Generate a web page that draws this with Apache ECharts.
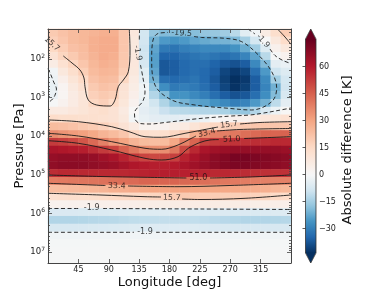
<!DOCTYPE html>
<html><head><meta charset="utf-8">
<script src="https://cdn.jsdelivr.net/npm/echarts@6/dist/echarts.min.js"></script>
<style>html,body{margin:0;padding:0;background:#fff}#c{width:390px;height:293px}</style>
</head><body><div id="c"></div>
<script>
// ---------- data ----------
const VMIN = -43.5, VMAX = 75.4;               // colour-bar range [K]
const lonCenters = [7.5,22.5,37.5,52.5,67.5,82.5,97.5,112.5,127.5,142.5,157.5,172.5,187.5,202.5,217.5,232.5,247.5,262.5,277.5,292.5,307.5,322.5,337.5,352.5];
const logPCenters = [1.324,1.526,1.728,1.930,2.132,2.335,2.537,2.739,2.941,3.143,3.345,3.547,3.749,3.952,4.154,4.356,4.558,4.760,4.962,5.164,5.366,5.569,5.771,5.973,6.175,6.377,6.579,6.781,6.983,7.185];
const logPRange = [1.223, 7.285];
const lonTicks = [45,90,135,180,225,270,315];
const pTicks = [1e2,1e3,1e4,1e5,1e6,1e7];
const cbarTicks = [-30,-15,0,15,30,45,60];

// absolute difference [K], rows top (low pressure) -> bottom, columns lon 7.5..352.5
const upperRows = [
 [20,22,24,25,26,27,27,21,8.5,-8,-17,-19,-19,-19,-18.5,-17,-16.5,-15.5,-12,-5,-1.5,6,13,19],
 [18,21,24,25,27,28,28,21,7.7,-8.2,-21,-25,-26,-25,-23,-22,-21,-20.5,-19.5,-15,-8,0,8,14],
 [15.5,19,22.5,24,27,28,28,21,7.7,-8.9,-23,-31,-32,-30,-29,-28,-28,-28,-26,-22,-15.5,-6,3.5,8],
 [11,16.5,20,23,26,28,27,20.5,8.2,-8.2,-24,-35,-35,-33,-32,-31,-32,-33,-32,-29,-23,-12,-0.5,3],
 [6,12,16.5,21,25,27,26,20,8.5,-7.6,-24,-37,-36,-34,-33,-33,-35,-37,-38,-36,-28,-19.5,-4.5,-3],
 [-1.5,8,13,18.5,24,25.5,25,18.5,8,-5,-23,-37,-36,-34,-33,-34,-36,-40,-42,-40,-33,-25,-9,-6],
 [-2.5,4.5,10,15,22,24,23,16,6.8,-3.9,-21,-33,-34,-33,-32,-34,-37,-41,-44,-42,-36,-28,-15,-8],
 [-3.5,2,7.5,12,20,22,21,11,5.6,-1.6,-17,-27,-31,-30,-31,-33,-36,-40,-43,-41,-36,-29,-21,-8.5],
 [-3,1.5,6.5,10,18,20,18.5,10.5,4.6,-2,-13,-19,-26,-26,-28,-30,-33,-36,-38,-37,-33,-27,-19,-7],
 [-0.5,3,6.5,9.5,16,18,15,9,3,-3.5,-8.4,-13.4,-18.5,-20.5,-23,-24,-26,-28,-30,-29,-25,-21,-11.5,-4.5],
 [7,7,8.5,10,12,13,11,7,0.5,-4.5,-6,-9.6,-11.4,-12.1,-12.6,-13,-13.3,-14,-17,-17,-13,-7,-2.5,0.5]
];
const bandRows = [
 [14,13,13,12.5,12.5,12,11,8,-1,-3.5,-4.5,-4.8,-4.7,-4.2,-3.5,-2.5,-0.5,1.6,2.9,3.6,6.8,8.6,10,11.6],
 [24,23,22,20.5,19.5,17.5,15,11,7,2.7,2.5,3,5.5,7,10.5,14,16,18,19,20,21,21,21,21],
 [35.5,34,32,31,29,26,24,21,16,13,12,13,16,19,27.5,36,38,38.5,40,42,43,44,44,44.5],
 [53,52,50,47,43,38,33.5,30,26,24,23,24,29,38,44,51.5,53,54,54.5,55,56,56,57,57],
 [62,61,60,59,56,53,51,44.6,40,36,35,35,40,50,57,62,64,65,66,66,66,66,66,65],
 [66,67,67,67,66,64,62,58,54,51,50,50.5,52,58,62,65,68,70,72,72,71,70,69,68],
 [67,68,68,68,67,66,65,63,61,60,59,59,60,62,64,66,68,70,71,71,70,69,68,67],
 [56,57,57,57,57,57,57,57,57.5,58,58.5,59,59,58.5,58,57.5,57,57,56.5,56,55.5,55,55,55],
 [39,39.5,40,40.5,41,41.5,42,42.5,43,44,44,44,44,43.5,43,42,41,40,39.5,39,38.5,38,38,38],
 [23.5,24,24.5,25,25.5,26,27,27.5,28.5,29.5,30,30,30.5,30.7,30.5,30,29.5,29,29,28.5,28,27,26,25],
 [12,12.5,13,13,13.5,14,15,15.5,15.7,15.7,16.5,17.5,19,20,19.5,19,19,18.5,18.5,18.4,17.5,16.5,15,14]
];
const lowerRows = [
 [3.2,3.3,3.5,3.6,3.8,4,4.2,4.5,4.8,5,5.3,5.6,6,6.3,6.2,6,6,5.8,5.6,5.5,5.2,5,4.8,4.5],
 [-6.5,-6.5,-6.5,-6.4,-6.3,-6.2,-6,-5.8,-5.6,-5.5,-5.5,-5.5,-5.5,-5.5,-5.6,-5.8,-6,-6.2,-6.4,-6.5,-6.4,-6.2,-6,-5.8],
 [-13,-13,-13,-12.8,-12.5,-12.2,-12,-11.5,-11,-10.8,-10.6,-10.5,-10.5,-10.6,-10.8,-11.2,-11.8,-12.2,-12.6,-13,-13,-13,-12.8,-12.5],
 [-7,-7,-7,-7,-6.8,-6.6,-6.4,-6.2,-6,-5.8,-5.8,-5.8,-5.8,-5.8,-6,-6.2,-6.5,-6.8,-7,-7,-7,-7,-7,-7],
 [-1.4,-1.4,-1.4,-1.4,-1.4,-1.4,-1.4,-1.4,-1.4,-1.4,-1.4,-1.4,-1.4,-1.4,-1.4,-1.4,-1.4,-1.4,-1.4,-1.4,-1.4,-1.4,-1.4,-1.4],
 [-0.6,-0.6,-0.6,-0.6,-0.6,-0.6,-0.6,-0.6,-0.6,-0.6,-0.6,-0.6,-0.6,-0.6,-0.6,-0.6,-0.6,-0.6,-0.6,-0.6,-0.6,-0.6,-0.6,-0.6],
 [-0.4,-0.4,-0.4,-0.4,-0.4,-0.4,-0.4,-0.4,-0.4,-0.4,-0.4,-0.4,-0.4,-0.4,-0.4,-0.4,-0.4,-0.4,-0.4,-0.4,-0.4,-0.4,-0.4,-0.4],
 [-0.3,-0.3,-0.3,-0.3,-0.3,-0.3,-0.3,-0.3,-0.3,-0.3,-0.3,-0.3,-0.3,-0.3,-0.3,-0.3,-0.3,-0.3,-0.3,-0.3,-0.3,-0.3,-0.3,-0.3]
];

// contour lines: [longitude, log10(pressure)]
const c157UpperLeft = [[22.7,1.922],[35.6,2.104],[47.4,2.285],[53.3,2.492],[54.8,2.718],[59.7,3.062],[72.1,3.192],[91.9,3.218],[99.3,3.062],[104.1,2.718],[111.6,2.544],[119,2.329],[121.5,1.767],[120.4,1.223]];
const c157TopRight = [[340,1.223],[351.1,1.43],[360,1.62]];
const cm19LeftBulge = [[0,2.25],[4,2.40],[8.5,2.60],[12.5,2.78],[10,2.95],[5,3.07],[0,3.12]];
const cm19MainA = [[135.6,1.223],[135.3,1.508]];
const cm19MainB = [[137,2.155],[140.7,2.492],[143.7,2.855],[140.7,3.088],[133.3,3.244],[128.1,3.399],[128.9,3.554],[136.3,3.671],[151.1,3.684],[173.3,3.645],[192.6,3.606],[217.8,3.554],[242.5,3.515],[272.1,3.477],[299.3,3.451],[317,3.407],[340.7,3.334],[360,3.269]];
const cm19TopRightA = [[296.3,1.223],[306.7,1.352]];
const cm19TopRightB = [[328.9,1.741],[336.3,1.909],[348.1,2.039],[360,2.117]];
const cm195Loop = [[216.3,1.417],[227.7,1.443],[262.2,1.464],[287,1.552],[311.6,1.896],[331.4,2.329],[338.8,2.759],[331.4,3.106],[301.8,3.321],[267.1,3.277],[217.8,3.192],[183.3,3.062],[158.5,2.674],[153.6,1.982],[155.6,1.508],[163,1.339],[177.8,1.313]];
const c157BandUpA = [[0,3.58],[44.9,3.624],[94.4,3.754],[121.5,3.891],[143.7,4.013],[168.4,4.028],[203,3.925],[232.6,3.826],[251.9,3.762]];
const c157BandUpB = [[284.4,3.684],[314.1,3.645],[360,3.624]];
const c334BandUpA = [[0,3.925],[44.9,3.995],[94.4,4.142],[143.7,4.313],[168.4,4.339],[192.6,4.228],[210.4,4.073],[219.3,3.995]];
const c334BandUpB = [[250.4,3.865],[284.4,3.826],[360,3.80]];
const c51BandUpA = [[0,4.117],[44.9,4.184],[94.4,4.358],[143.7,4.573],[168.4,4.617],[192.6,4.531],[207.9,4.313],[225.2,4.163],[240,4.098],[253,4.088]];
const c51BandUpB = [[290.4,4.06],[360,4.013]];
const c51BandLowA = [[0,5.005],[77,5.044],[143.7,5.065],[205,5.083]];
const c51BandLowB = [[240,5.083],[299.3,5.057],[360,5.005]];
const c334BandLowA = [[0,5.22],[85,5.277]];
const c334BandLowB = [[118.5,5.29],[192.6,5.308],[269.6,5.277],[360,5.22]];
const c157BandLowA = [[0,5.479],[77,5.523],[143.7,5.567],[167.4,5.575]];
const c157BandLowB = [[198.5,5.627],[225.2,5.64],[291.9,5.609],[360,5.523]];
const cm19Low1A = [[0,5.873],[48.1,5.873]];
const cm19Low1B = [[81.5,5.873],[225.2,5.886],[360,5.899]];
const cm19Low2A = [[0,6.49],[127.4,6.49]];
const cm19Low2B = [[160,6.49],[360,6.49]];
// contour labels: [lon, log10 p, text, rotation]
const contourLabels = [
 [5.9,1.611,'15.7',-43],[132.9,1.845,'-1.9',-79],[318.5,1.534,'-1.9',-47],[198,1.334,'-19.5',-4],
 [268.1,3.702,'15.7',7],[235.1,3.917,'33.4',14],[272.1,4.08,'51.0',3],
 [222.7,5.09,'51.0',0],[101.8,5.29,'33.4',-2],[183.3,5.596,'15.7',-3],
 [64.7,5.868,'-1.9',0],[143.7,6.49,'-1.9',0]
];

// ---------- colour map (RdBu_r, two-slope around 0) ----------
const RDBU_R = ['#053061','#2166ac','#4393c3','#92c5de','#d1e5f0','#f7f7f7','#fddbc7','#f4a582','#d6604d','#b2182b','#67001f'];
function hex2rgb(h){return [1,3,5].map(i=>parseInt(h.substr(i,2),16));}
function cmap(t){t=Math.max(0,Math.min(1,t));const p=t*10;const i=Math.min(9,Math.floor(p));const f=p-i;
 const a=hex2rgb(RDBU_R[i]),b=hex2rgb(RDBU_R[i+1]);return 'rgb('+a.map((x,k)=>Math.round(x+(b[k]-x)*f)).join(',')+')';}
function norm(v){return v>=0?0.5+0.5*v/VMAX:0.5-0.5*v/VMIN;}
const vmColors=[];for(let k=0;k<=150;k++){vmColors.push(cmap(norm(VMIN+(VMAX-VMIN)*k/150)));}
const cbarStops=[];for(let k=0;k<=80;k++){cbarStops.push({offset:k/80,color:cmap(norm(VMAX-(VMAX-VMIN)*k/80))});}

// ---------- build ----------
const FONT='DejaVu Sans';
const allRows=upperRows.concat(bandRows,lowerRows);
const heatData=[];allRows.forEach((row,i)=>row.forEach((v,j)=>heatData.push([j,i,v])));
const toP=arr=>arr.map(d=>[d[0],Math.pow(10,d[1])]);
const PMIN=Math.pow(10,logPRange[0]),PMAX=Math.pow(10,logPRange[1]);
const pMinor=[];for(let d=1;d<=7;d++){for(let m=2;m<=9;m++){const v=m*Math.pow(10,d);if(v>PMIN&&v<PMAX)pMinor.push(v);}}

const solid=[c157UpperLeft,c157TopRight,c157BandUpA,c157BandUpB,c334BandUpA,c334BandUpB,c51BandUpA,c51BandUpB,c51BandLowA,c51BandLowB,c334BandLowA,c334BandLowB,c157BandLowA,c157BandLowB];
const dashed=[cm19LeftBulge,cm19MainA,cm19MainB,cm19TopRightA,cm19TopRightB,cm195Loop,cm19Low1A,cm19Low1B,cm19Low2A,cm19Low2B];
const lineSeries=[];
solid.forEach(c=>lineSeries.push({type:'line',xAxisIndex:1,yAxisIndex:1,data:toP(c),showSymbol:false,smooth:0.35,silent:true,z:3,lineStyle:{color:'#1a1a1a',width:0.9,type:'solid'}}));
dashed.forEach(c=>lineSeries.push({type:'line',xAxisIndex:1,yAxisIndex:1,data:toP(c),showSymbol:false,smooth:0.35,silent:true,z:3,lineStyle:{color:'#1a1a1a',width:0.9,type:[4,2.5]}}));

const axisLineStyle={color:'#444',width:1};
function yAx(pos,major,showLine){return {type:'log',gridIndex:1,min:PMIN,max:PMAX,inverse:true,position:pos,z:6,
  axisLine:{show:showLine,onZero:false,lineStyle:axisLineStyle},
  axisTick:{show:true,inside:true,length:major?4:2,customValues:major?pTicks:pMinor,lineStyle:{color:'#444',width:0.8}},
  axisLabel:{show:major&&pos==='left',customValues:pTicks,formatter:v=>'{b|10}{s|'+Math.round(Math.log10(v))+'}',fontFamily:FONT,color:'#222',margin:3,
    rich:{b:{fontSize:8.5,fontFamily:FONT,color:'#222'},s:{fontSize:6,fontFamily:FONT,color:'#222',padding:[0,0,6,0]}}},
  splitLine:{show:false}};}

const option={
 animation:false,
 textStyle:{fontFamily:FONT},
 grid:[
  {left:48,top:29,width:243,height:234,outerBoundsMode:'none'},
  {left:48,top:29,width:243,height:234,outerBoundsMode:'none'},
  {left:305.5,top:39,width:10.5,height:214,outerBoundsMode:'none'}
 ],
 xAxis:[
  {type:'category',gridIndex:0,data:lonCenters,show:false},
  {type:'value',gridIndex:1,min:0,max:360,interval:45,position:'bottom',z:6,
   axisLine:{show:true,onZero:false,lineStyle:axisLineStyle},
   axisTick:{show:true,inside:true,length:4,customValues:lonTicks,lineStyle:{color:'#444',width:0.8}},
   axisLabel:{customValues:lonTicks,fontSize:8,fontFamily:FONT,color:'#222',margin:3},splitLine:{show:false}},
  {type:'value',gridIndex:1,min:0,max:360,interval:45,position:'top',z:6,
   axisLine:{show:true,onZero:false,lineStyle:axisLineStyle},
   axisTick:{show:true,inside:true,length:4,customValues:lonTicks,lineStyle:{color:'#444',width:0.8}},
   axisLabel:{show:false},splitLine:{show:false}},
  {type:'value',gridIndex:2,min:0,max:1,show:false}
 ],
 yAxis:[
  {type:'category',gridIndex:0,data:logPCenters,inverse:true,show:false},
  yAx('left',true,true),yAx('left',false,false),yAx('right',true,true),yAx('right',false,false),
  {type:'value',gridIndex:2,min:VMIN,max:VMAX,position:'right',z:10,
   axisLine:{show:false},
   axisTick:{show:true,inside:true,length:3,customValues:cbarTicks,lineStyle:{color:'#333',width:0.8}},
   axisLabel:{customValues:cbarTicks,formatter:v=>String(v).replace('-','\u2212'),fontSize:8,fontFamily:FONT,color:'#222',margin:3},
   splitLine:{show:false}}
 ],
 visualMap:{type:'continuous',show:false,min:VMIN,max:VMAX,seriesIndex:0,dimension:2,inRange:{color:vmColors}},
 series:[
  {type:'heatmap',xAxisIndex:0,yAxisIndex:0,data:heatData,silent:true,z:1,itemStyle:{borderWidth:0},emphasis:{disabled:true}}
 ].concat(lineSeries,[
  {type:'scatter',xAxisIndex:1,yAxisIndex:1,symbolSize:1,silent:true,z:4,itemStyle:{color:'rgba(0,0,0,0)'},
   data:contourLabels.map(d=>({name:d[2],value:[d[0],Math.pow(10,d[1])],label:{rotate:d[3]}})),
   label:{show:true,position:'inside',formatter:'{b}',fontSize:8,fontFamily:FONT,color:'#111'}}
 ]),
 graphic:[
  {type:'rect',shape:{x:305.5,y:39,width:10.5,height:214},style:{fill:{type:'linear',x:0,y:0,x2:0,y2:1,colorStops:cbarStops}},z:1},
  {type:'polygon',shape:{points:[[305.5,39.5],[310.75,29],[316,39.5]]},style:{fill:cmap(1)},z:1},
  {type:'polygon',shape:{points:[[305.5,252.5],[310.75,263],[316,252.5]]},style:{fill:cmap(0)},z:1},
  {type:'polyline',shape:{points:[[305.5,39],[310.75,29],[316,39],[316,253],[310.75,263],[305.5,253],[305.5,39]]},style:{stroke:'#333',lineWidth:0.8,fill:null},z:2},
  {type:'text',x:169.5,y:283,style:{text:'Longitude [deg]',fontSize:13,fontFamily:FONT,fill:'#111',align:'center',verticalAlign:'middle'}},
  {type:'text',x:19.5,y:146,rotation:Math.PI/2,style:{text:'Pressure [Pa]',fontSize:13,fontFamily:FONT,fill:'#111',align:'center',verticalAlign:'middle'}},
  {type:'text',x:347.5,y:150,rotation:Math.PI/2,style:{text:'Absolute difference [K]',fontSize:13,fontFamily:FONT,fill:'#111',align:'center',verticalAlign:'middle'}}
 ]
};
const chart=echarts.init(document.getElementById('c'),null,{renderer:'canvas'});
chart.setOption(option);
</script></body></html>
